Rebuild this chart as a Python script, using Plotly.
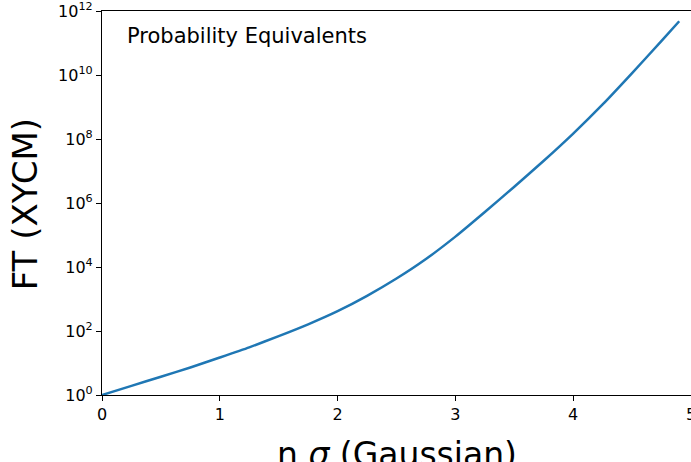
import plotly.graph_objects as go

# n sigma values (x) and FT values (y)
n_sigma = [0.0, 0.25, 0.5, 0.75, 1.0, 1.25, 1.5, 1.75, 2.0, 2.25, 2.5, 2.75,
           3.0, 3.25, 3.5, 3.75, 4.0, 4.25, 4.5, 4.75, 4.9]
ft_values = [1.0, 1.93, 3.72, 7.24, 14.8, 30.9, 69.2, 162, 417, 1259, 4365,
             17780, 89125, 5.248e5, 3.236e6, 2.089e7, 1.479e8, 1.202e9,
             1.148e10, 1.175e11, 4.786e11]

y_tick_vals = [1, 1e2, 1e4, 1e6, 1e8, 1e10, 1e12]
y_tick_text = ["10<sup>0</sup>", "10<sup>2</sup>", "10<sup>4</sup>", "10<sup>6</sup>",
               "10<sup>8</sup>", "10<sup>10</sup>", "10<sup>12</sup>"]
x_tick_vals = [0, 1, 2, 3, 4, 5]
x_tick_text = ["0", "1", "2", "3", "4", "5"]

font_family = "DejaVu Sans"

fig = go.Figure()
fig.add_trace(go.Scatter(
    x=n_sigma, y=ft_values, mode="lines",
    line=dict(color="#1f77b4", width=2.5, shape="spline", smoothing=0.6),
    showlegend=False,
))

fig.update_layout(
    width=691, height=462,
    margin=dict(l=102, r=0, t=11, b=67, autoexpand=False),
    paper_bgcolor="white", plot_bgcolor="white",
    font=dict(family=font_family, color="black", size=16),
    xaxis=dict(
        range=[0, 5], tickvals=x_tick_vals, ticktext=x_tick_text,
        automargin=False, ticklabeloverflow="allow",
        showgrid=False, zeroline=False, showline=True, linecolor="black",
        linewidth=1.2, mirror=True, ticks="outside", ticklen=5, tickwidth=1.2,
        tickcolor="black", tickfont=dict(size=16, family=font_family),
    ),
    yaxis=dict(
        type="log", range=[0, 12.001], tickvals=y_tick_vals, ticktext=y_tick_text,
        automargin=False, ticklabeloverflow="allow",
        showgrid=False, zeroline=False, showline=True, linecolor="black",
        linewidth=1.2, ticks="outside", ticklen=5, tickwidth=1.2,
        tickcolor="black", tickfont=dict(size=16, family=font_family),
    ),
    annotations=[
        dict(text="Probability Equivalents", xref="paper", yref="paper",
             x=0.039, y=0.935, xanchor="left", yanchor="middle",
             showarrow=False, font=dict(size=21, family=font_family)),
        dict(text="n <i>σ</i> (Gaussian)", xref="paper", yref="paper",
             x=0.5, y=-0.155, xanchor="center", yanchor="middle",
             showarrow=False, font=dict(size=33, family=font_family)),
        dict(text="FT (XYCM)", xref="paper", yref="paper",
             x=-0.1304, y=0.497, xanchor="center", yanchor="middle",
             textangle=-90, showarrow=False,
             font=dict(size=34, family=font_family)),
    ],
)

# remove the default page margin so the figure sits at the window's corner
fig.write_html("out.html", config={"displayModeBar": False},
               post_script="document.body.style.margin='0';")
